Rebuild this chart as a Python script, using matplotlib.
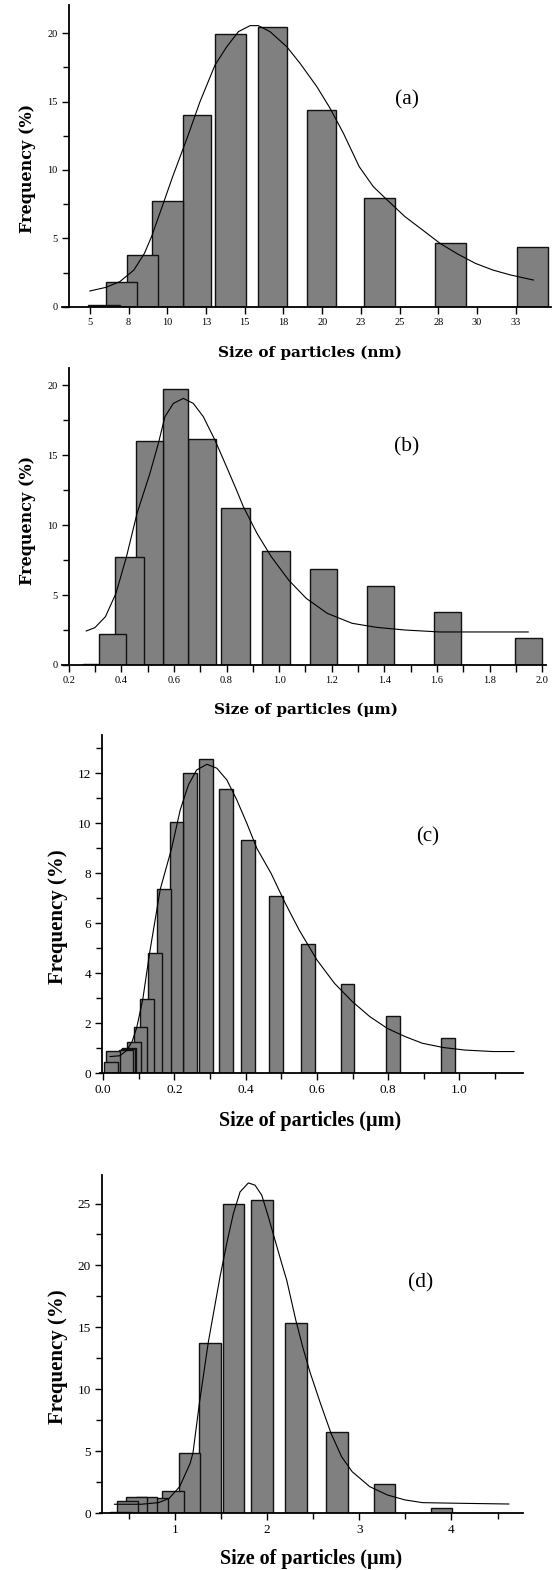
import matplotlib
matplotlib.use("Agg")
import matplotlib.pyplot as plt
from matplotlib.ticker import FixedLocator, MultipleLocator, FormatStrFormatter

plt.rcParams['font.family'] = ['Liberation Serif', 'DejaVu Serif']

# ---- panel (a): sizes in nm ----
a_lo = [4.89, 6.02, 7.39, 8.98, 10.98, 13.1, 15.84, 19.0, 22.7, 27.3, 32.6]
a_hi = [6.93, 8.02, 9.39, 10.98, 12.8, 15.1, 17.75, 20.9, 24.7, 29.3, 34.6]
a_freq = [0.15, 1.78, 3.76, 7.76, 14.05, 19.93, 20.46, 14.41, 7.93, 4.66, 4.39]
a_fit_x = [5.0, 6.02, 6.93, 7.84, 8.52, 8.98, 9.66, 10.34, 11.0, 11.36, 12.11, 13.08,
           13.84, 14.59, 15.34, 15.88, 16.63, 17.71, 18.57, 19.65, 20.51, 21.37, 22.39,
           23.3, 24.2, 25.34, 26.48, 27.61, 28.75, 29.89, 31.02, 32.16, 33.64]
a_fit_y = [1.15, 1.41, 1.83, 2.68, 3.9, 5.12, 7.3, 9.5, 11.5, 12.6, 15.0, 17.68,
           19.02, 20.12, 20.56, 20.56, 20.12, 19.02, 17.8, 16.1, 14.51, 12.68, 10.24,
           8.78, 7.8, 6.59, 5.61, 4.63, 3.85, 3.17, 2.68, 2.32, 1.95]
a_ticks = [5, 7.5, 10, 12.5, 15, 17.5, 20, 22.5, 25, 27.5, 30, 32.5]
a_ticklabels = ['5', '8', '10', '13', '15', '18', '20', '23', '25', '28', '30', '33']

# ---- panel (b): sizes in um ----
b_lo = [0.256, 0.314, 0.378, 0.458, 0.559, 0.652, 0.779, 0.933, 1.116, 1.334, 1.589, 1.895]
b_hi = [0.313, 0.42, 0.485, 0.559, 0.652, 0.759, 0.889, 1.043, 1.221, 1.437, 1.692, 1.999]
b_freq = [0.1, 2.19, 7.74, 16.02, 19.74, 16.17, 11.21, 8.17, 6.88, 5.64, 3.81, 1.9]
b_fit_x = [0.267, 0.3, 0.34, 0.38, 0.42, 0.46, 0.509, 0.541, 0.566, 0.598, 0.636, 0.674,
           0.712, 0.756, 0.8, 0.838, 0.864, 0.916, 0.97, 1.036, 1.103, 1.183, 1.277,
           1.37, 1.478, 1.611, 1.745, 1.946]
b_fit_y = [2.43, 2.67, 3.45, 5.12, 7.74, 10.83, 13.69, 15.83, 17.74, 18.69, 19.05, 18.69,
           17.74, 16.07, 14.17, 12.5, 11.31, 9.4, 7.74, 6.07, 4.76, 3.69, 2.98,
           2.69, 2.5, 2.36, 2.36, 2.36]

# ---- panel (c): sizes in um ----
c_lo = [0.003, 0.008, 0.044, 0.050, 0.054, 0.067, 0.085, 0.103, 0.125, 0.152, 0.186,
        0.224, 0.270, 0.324, 0.388, 0.466, 0.556, 0.666, 0.795, 0.949]
c_hi = [0.042, 0.047, 0.083, 0.089, 0.093, 0.106, 0.124, 0.142, 0.164, 0.191, 0.225,
        0.263, 0.309, 0.363, 0.427, 0.505, 0.595, 0.705, 0.834, 0.988]
c_freq = [0.46, 0.9, 0.92, 0.96, 1.0, 1.27, 1.85, 2.96, 4.8, 7.36, 10.07,
          12.0, 12.56, 11.36, 9.33, 7.1, 5.16, 3.56, 2.3, 1.4]
c_fit_x = [0.019, 0.046, 0.065, 0.081, 0.094, 0.111, 0.130, 0.160, 0.192, 0.216, 0.239,
           0.262, 0.291, 0.319, 0.347, 0.375, 0.403, 0.431, 0.471, 0.511, 0.55, 0.6,
           0.649, 0.699, 0.748, 0.797, 0.847, 0.896, 0.955, 1.015, 1.094, 1.153]
c_fit_y = [0.67, 0.7, 0.9, 1.27, 1.83, 2.96, 4.8, 7.36, 9.0, 10.53, 11.53,
           12.13, 12.36, 12.2, 11.73, 10.93, 10.0, 9.0, 8.0, 6.8, 5.73, 4.53,
           3.6, 2.87, 2.27, 1.8, 1.47, 1.2, 1.03, 0.93, 0.87, 0.87]

# ---- panel (d): sizes in um ----
d_lo = [0.294, 0.374, 0.465, 0.578, 0.694, 0.856, 1.042, 1.264, 1.52, 1.829, 2.196,
        2.635, 3.155, 3.782]
d_hi = [0.529, 0.602, 0.693, 0.808, 0.924, 1.095, 1.271, 1.497, 1.753, 2.062, 2.433,
        2.872, 3.392, 4.011]
d_freq = [0.13, 1.02, 1.34, 1.29, 1.2, 1.82, 4.89, 13.76, 25.0, 25.32, 15.32,
          6.53, 2.34, 0.4]
d_fit_x = [0.343, 0.63, 0.82, 0.935, 1.05, 1.164, 1.195, 1.264, 1.36, 1.488, 1.561,
           1.633, 1.706, 1.796, 1.868, 1.941, 2.013, 2.085, 2.158, 2.212, 2.31, 2.39,
           2.464, 2.578, 2.693, 2.807, 2.922, 3.113, 3.304, 3.495, 3.686, 4.068, 4.622]
d_fit_y = [0.73, 0.73, 0.86, 1.2, 2.15, 4.03, 4.89, 8.87, 13.76, 19.08, 21.77,
           24.19, 25.94, 26.66, 26.48, 25.67, 23.92, 22.04, 20.16, 18.81, 15.6, 13.3,
           11.4, 8.87, 6.45, 4.57, 3.36, 2.15, 1.48, 1.08, 0.86, 0.81, 0.75]

W, H = 552, 1570
fig = plt.figure(figsize=(W / 100, H / 100), dpi=100)


def box(l, r, t, b):
    return [l / W, 1 - b / H, (r - l) / W, (b - t) / H]


def panel(rect, lo, hi, freq, fx, fy, xlim, ylim, yaxis_at, fs):
    ax = fig.add_axes(rect)
    widths = [h - l for l, h in zip(lo, hi)]
    # left-hand bars sit on top of their right neighbours
    ax.bar(lo[::-1], freq[::-1], width=widths[::-1], align='edge',
           color='#808080', edgecolor='#111111', linewidth=1.0, zorder=2)
    ax.plot(fx, fy, color='black', lw=0.8, zorder=3)
    ax.set_xlim(*xlim)
    ax.set_ylim(*ylim)
    for s in ['top', 'right']:
        ax.spines[s].set_visible(False)
    ax.spines['left'].set_position(('data', yaxis_at))
    for s in ['left', 'bottom']:
        ax.spines[s].set_linewidth(1.3)
    ax.tick_params(which='both', direction='out', width=1.0, labelsize=fs, pad=3)
    ax.tick_params(which='major', length=5)
    ax.tick_params(which='minor', length=4)
    return ax


axa = panel(box(62, 551, 5, 306.7), a_lo, a_hi, a_freq, a_fit_x, a_fit_y,
            (3.2, 34.77), (0, 22.07), 3.64, 7.5)
axa.xaxis.set_major_locator(FixedLocator(a_ticks))
axa.set_xticklabels(a_ticklabels)
axa.yaxis.set_major_locator(MultipleLocator(5))
axa.yaxis.set_minor_locator(MultipleLocator(2.5))

axb = panel(box(62, 545.8, 368.3, 665), b_lo, b_hi, b_freq, b_fit_x, b_fit_y,
            (0.175, 2.013), (0, 21.2), 0.2, 7.5)
axb.xaxis.set_major_locator(MultipleLocator(0.2))
axb.xaxis.set_minor_locator(MultipleLocator(0.1))
axb.xaxis.set_major_formatter(FormatStrFormatter('%.1f'))
axb.yaxis.set_major_locator(MultipleLocator(5))
axb.yaxis.set_minor_locator(MultipleLocator(2.5))
axb.tick_params(axis='x', which='minor', length=5)

axc = panel(box(100.4, 522.9, 735, 1073.3), c_lo, c_hi, c_freq, c_fit_x, c_fit_y,
            (-0.008, 1.178), (0, 13.53), -0.003, 9.5)
axc.xaxis.set_major_locator(MultipleLocator(0.2))
axc.xaxis.set_minor_locator(MultipleLocator(0.1))
axc.xaxis.set_major_formatter(FormatStrFormatter('%.1f'))
axc.yaxis.set_major_locator(MultipleLocator(2))
axc.yaxis.set_minor_locator(MultipleLocator(1))

axd = panel(box(100.4, 522.9, 1175, 1513.3), d_lo, d_hi, d_freq, d_fit_x, d_fit_y,
            (0.19, 4.775), (0, 27.3), 0.209, 9.5)
axd.xaxis.set_major_locator(MultipleLocator(1))
axd.xaxis.set_minor_locator(MultipleLocator(0.5))
axd.yaxis.set_major_locator(MultipleLocator(5))
axd.yaxis.set_minor_locator(MultipleLocator(2.5))


def ftext(x, y, s, **kw):
    fig.text(x / W, 1 - y / H, s, ha='center', va='center', **kw)


# axis titles (top two panels use a wider, spaced-out bold face)
wide = ['DejaVu Serif']
ftext(28, 168, 'Frequency (%)', rotation=90, fontsize=11.5, fontweight='bold', family=wide)
ftext(28, 520, 'Frequency (%)', rotation=90, fontsize=11.5, fontweight='bold', family=wide)
ftext(58, 917, 'Frequency (%)', rotation=90, fontsize=15, fontweight='bold')
ftext(58, 1357, 'Frequency (%)', rotation=90, fontsize=15, fontweight='bold')

ftext(310, 353, 'Size of particles (nm)', fontsize=11, fontweight='bold', family=wide)
ftext(306, 710, 'Size of particles (\u03bcm)', fontsize=11, fontweight='bold', family=wide)
ftext(310, 1121, 'Size of particles (\u00b5m)', fontsize=14.5, fontweight='bold')
ftext(311, 1559, 'Size of particles (\u00b5m)', fontsize=14.5, fontweight='bold')

# panel letters
ftext(407, 100, '(a)', fontsize=15.5)
ftext(407, 447, '(b)', fontsize=15.5)
ftext(428, 837, '(c)', fontsize=15)
ftext(421, 1283, '(d)', fontsize=15.5)

fig.savefig('out.png', dpi=100)
